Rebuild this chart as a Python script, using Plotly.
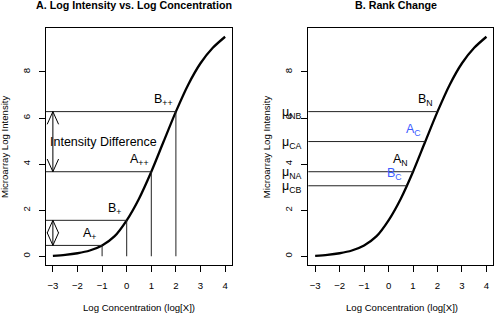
import plotly.graph_objects as go

# ---------------- data ----------------
conc = [-3, -2.5, -2, -1.5, -1, -0.5, 0, 0.5, 1, 1.5, 2, 2.5, 3, 3.5, 4]
intensity = [0.02, 0.06, 0.13, 0.25, 0.47, 0.86, 1.56, 2.50, 3.67, 4.98, 6.28, 7.45, 8.38, 9.05, 9.53]

left_x = [-1, 0, 1, 2]
left_y = [0.47, 1.56, 3.67, 6.28]
left_labels = ["A<sub>+</sub>", "B<sub>+</sub>", "A<sub>++</sub>", "B<sub>++</sub>"]

right_x = [2, 1.5, 1, 0.75]
right_y = [6.28, 4.98, 3.67, 3.06]
right_labels = ["B<sub>N</sub>", "A<sub>C</sub>", "A<sub>N</sub>", "B<sub>C</sub>"]
right_label_colors = ["black", "#3d5cff", "black", "#3d5cff"]
mu_labels = ["μ<sub>NB</sub>", "μ<sub>CA</sub>", "μ<sub>NA</sub>", "μ<sub>CB</sub>"]

arrow_x = -3
arrow_pairs = [(left_y[2], left_y[3]), (left_y[0], left_y[1])]
diff_label = "Intensity Difference"

x_ticks = [-3, -2, -1, 0, 1, 2, 3, 4]
y_ticks = [0, 2, 4, 6, 8]

titles = ["A. Log Intensity vs. Log Concentration", "B. Rank Change"]
x_title = "Log Concentration (log[X])"
y_title = "Microarray Log Intensity"

# ---------------- layout geometry ----------------
W, H = 495, 314
XR = [-3.28, 4.28]
YR = [-0.38, 9.91]
box_top, box_bot = 28, 265
left_dom = [46 / W, 232 / W]
right_dom = [308.3 / W, 493.3 / W]
y_dom = [1 - box_bot / H, 1 - box_top / H]

FONT = "Liberation Sans, Arial, Helvetica, sans-serif"
fig = go.Figure()

# curves
for xa, ya in (("x", "y"), ("x2", "y2")):
    fig.add_trace(go.Scatter(x=conc, y=intensity, mode="lines", xaxis=xa, yaxis=ya,
                             line=dict(color="black", width=2.3, shape="spline", smoothing=0.8),
                             showlegend=False, hoverinfo="skip"))

# left guide lines
for xv, yv in zip(left_x, left_y):
    fig.add_trace(go.Scatter(x=[XR[0] - 1, xv, xv], y=[yv, yv, 0], mode="lines",
                             line=dict(color="#222", width=1), xaxis="x", yaxis="y",
                             showlegend=False, hoverinfo="skip"))
# right guide lines
for xv, yv in zip(right_x, right_y):
    fig.add_trace(go.Scatter(x=[XR[0] - 1, xv], y=[yv, yv], mode="lines",
                             line=dict(color="#222", width=1), xaxis="x2", yaxis="y2",
                             showlegend=False, hoverinfo="skip"))

# double arrows (open V heads)
px_per_x = (232 - 46) / (XR[1] - XR[0])
px_per_y = (box_bot - box_top) / (YR[1] - YR[0])
hx = 5.7 / px_per_x
hy = 12.7 / px_per_y
for lo, hi in arrow_pairs:
    xs = [arrow_x, arrow_x, None,
          arrow_x - hx, arrow_x, arrow_x + hx, None,
          arrow_x - hx, arrow_x, arrow_x + hx]
    ys = [lo, hi, None,
          hi - hy, hi, hi - hy, None,
          lo + hy, lo, lo + hy]
    fig.add_trace(go.Scatter(x=xs, y=ys, mode="lines", line=dict(color="black", width=1),
                             xaxis="x", yaxis="y", showlegend=False, hoverinfo="skip"))

ann = []
for xv, yv, t in zip(left_x, left_y, left_labels):
    ann.append(dict(x=xv - 0.5, y=yv + 0.5, xref="x", yref="y", text=t, showarrow=False,
                    font=dict(size=12.5, color="black", family=FONT)))
for xv, yv, t, c in zip(right_x, right_y, right_labels, right_label_colors):
    ann.append(dict(x=xv - 0.5, y=yv + 0.5, xref="x2", yref="y2", text=t, showarrow=False,
                    font=dict(size=12.5, color=c, family=FONT)))
for yv, t in zip(right_y, mu_labels):
    ann.append(dict(x=0, y=yv, xref="x2 domain", yref="y2", text=t, showarrow=False,
                    xanchor="right", yanchor="middle", xshift=-4, yshift=-1,
                    font=dict(size=12.5, color="black", family=FONT)))
ann.append(dict(x=-0.96, y=(arrow_pairs[0][0] + arrow_pairs[0][1]) / 2, xref="x", yref="y",
                text=diff_label, showarrow=False, font=dict(size=12.5, color="black", family=FONT)))

# titles
for cx, t in zip([134.2, 396], titles):
    ann.append(dict(x=cx / W, y=1 - 5.3 / H, xref="paper", yref="paper", text="<b>" + t + "</b>",
                    showarrow=False, xanchor="center", yanchor="middle",
                    font=dict(size=10.7, color="black", family=FONT)))
for cx in [139.2, 401.7]:
    ann.append(dict(x=cx / W, y=1 - 307 / H, xref="paper", yref="paper", text=x_title,
                    showarrow=False, xanchor="center", yanchor="middle",
                    font=dict(size=9.6, color="black", family=FONT)))
for cx in [4.6, 266.7]:
    ann.append(dict(x=cx / W, y=1 - 146.5 / H, xref="paper", yref="paper", text=y_title,
                    showarrow=False, xanchor="center", yanchor="middle", textangle=-90,
                    font=dict(size=9.6, color="black", family=FONT)))

def xaxis(dom, anchor):
    return dict(domain=dom, range=XR, anchor=anchor, tickvals=x_ticks, ticks="outside", ticklen=6,
                tickcolor="black", tickwidth=1, showline=True, mirror=True, linecolor="black",
                linewidth=1, showgrid=False, zeroline=False, ticklabelstandoff=5,
                tickfont=dict(size=9.6, color="black", family=FONT), fixedrange=True)

def yaxis(anchor):
    return dict(domain=y_dom, range=YR, anchor=anchor, tickvals=y_ticks, ticks="outside", ticklen=6,
                tickcolor="black", tickwidth=1, showline=True, mirror=True, linecolor="black",
                linewidth=1, showgrid=False, zeroline=False, tickangle=-90, ticklabelstandoff=5,
                tickfont=dict(size=9.6, color="black", family=FONT), fixedrange=True)

fig.update_layout(
    width=W, height=H, margin=dict(l=0, r=0, t=0, b=0),
    paper_bgcolor="white", plot_bgcolor="white",
    xaxis=xaxis(left_dom, "y"), yaxis=yaxis("x"),
    xaxis2=xaxis(right_dom, "y2"), yaxis2=yaxis("x2"),
    annotations=ann, showlegend=False,
)
fig.write_html("out.html", config={"displayModeBar": False},
               post_script="document.body.style.margin='0';document.body.style.overflow='hidden';")
